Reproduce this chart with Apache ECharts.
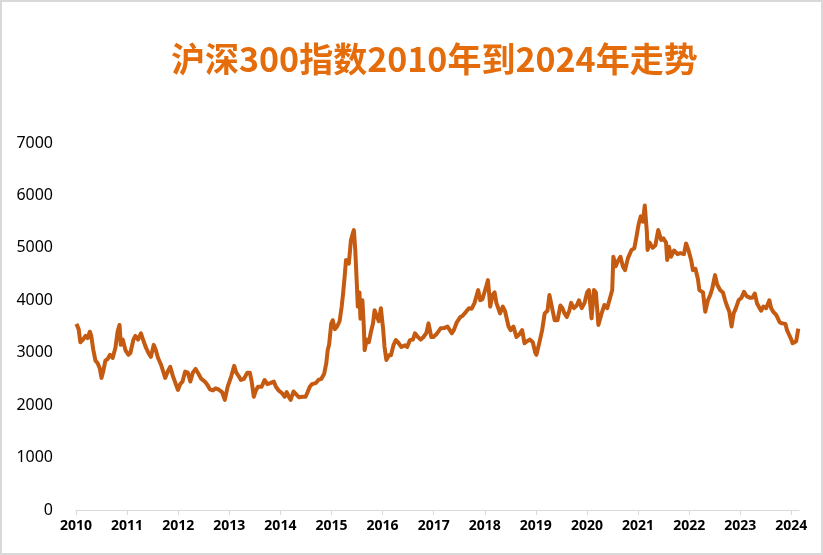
<!DOCTYPE html>
<html>
<head>
<meta charset="utf-8">
<script src="https://cdn.jsdelivr.net/npm/echarts@6/dist/echarts.min.js"></script>
<style>
html,body{margin:0;padding:0;background:#fff;}
#wrap{width:823px;height:555px;box-sizing:border-box;border:2px solid #d9d9d9;position:relative;}
#chart{position:absolute;left:-2px;top:-2px;width:823px;height:555px;}
</style>
</head>
<body>
<div id="wrap"><div id="chart"></div></div>
<script>
const titleText = '沪深300指数2010年到2024年走势';
const yearTicks = [2010,2011,2012,2013,2014,2015,2016,2017,2018,2019,2020,2021,2022,2023,2024];
const dates = [
'2010-01-04','2010-01-20','2010-02-01','2010-02-20','2010-03-10','2010-03-25','2010-04-10','2010-04-20','2010-05-05','2010-05-20','2010-06-05','2010-06-20','2010-07-02','2010-07-15','2010-07-30','2010-08-15','2010-09-01','2010-09-20','2010-10-10','2010-10-25','2010-11-08','2010-11-17','2010-12-01','2010-12-20',
'2011-01-10','2011-01-25','2011-02-15','2011-03-01','2011-03-20','2011-04-10','2011-04-25','2011-05-15','2011-06-05','2011-06-20','2011-07-10','2011-07-25','2011-08-10','2011-08-30','2011-09-15','2011-09-30','2011-10-20','2011-11-05','2011-11-25','2011-12-15','2011-12-30',
'2012-01-15','2012-02-01','2012-02-20','2012-03-10','2012-03-28','2012-04-15','2012-05-05','2012-05-25','2012-06-15','2012-07-10','2012-07-30','2012-08-15','2012-09-05','2012-09-25','2012-10-15','2012-11-10','2012-11-30','2012-12-20',
'2013-01-15','2013-02-05','2013-02-20','2013-03-10','2013-03-25','2013-04-15','2013-05-10','2013-05-28','2013-06-10','2013-06-25','2013-07-10','2013-07-25','2013-08-20','2013-09-10','2013-09-30','2013-10-20','2013-11-15','2013-11-30','2013-12-20',
'2014-01-15','2014-02-01','2014-02-15','2014-03-05','2014-03-15','2014-04-05','2014-04-25','2014-05-15','2014-06-10','2014-06-30','2014-07-15','2014-07-30','2014-08-15','2014-09-10','2014-09-30','2014-10-20','2014-11-10','2014-11-25','2014-12-05','2014-12-15','2014-12-30',
'2015-01-10','2015-01-25','2015-02-10','2015-02-28','2015-03-15','2015-03-25','2015-04-05','2015-04-15','2015-05-05','2015-05-20','2015-06-05','2015-06-10','2015-06-20','2015-07-02','2015-07-08','2015-07-20','2015-07-27','2015-08-10','2015-08-20','2015-08-26','2015-09-10','2015-09-25','2015-10-10','2015-10-25','2015-11-05','2015-11-20','2015-12-05','2015-12-20',
'2016-01-05','2016-01-15','2016-01-28','2016-02-15','2016-03-01','2016-03-20','2016-04-05','2016-04-20','2016-05-15','2016-06-10','2016-06-25','2016-07-15','2016-08-05','2016-08-20','2016-09-10','2016-09-30','2016-10-20','2016-11-10','2016-11-25','2016-12-15','2016-12-30',
'2017-01-20','2017-02-20','2017-03-15','2017-04-10','2017-05-10','2017-05-25','2017-06-15','2017-07-10','2017-07-25','2017-08-20','2017-09-10','2017-09-30','2017-10-20','2017-11-15','2017-11-30','2017-12-15',
'2018-01-10','2018-01-24','2018-02-09','2018-02-25','2018-03-12','2018-03-25','2018-04-20','2018-05-10','2018-05-25','2018-06-20','2018-07-05','2018-07-25','2018-08-15','2018-09-05','2018-09-25','2018-10-12','2018-10-30','2018-11-20','2018-12-10','2018-12-28',
'2019-01-05','2019-01-25','2019-02-15','2019-03-05','2019-03-25','2019-04-08','2019-04-25','2019-05-15','2019-06-05','2019-06-25','2019-07-10','2019-07-25','2019-08-10','2019-08-28','2019-09-10','2019-09-30','2019-10-20','2019-11-05','2019-11-25','2019-12-15',
'2020-01-02','2020-01-15','2020-02-03','2020-02-20','2020-03-05','2020-03-23','2020-04-15','2020-05-05','2020-05-25','2020-06-15','2020-06-30','2020-07-08','2020-07-25','2020-08-10','2020-08-28','2020-09-15','2020-09-30','2020-10-20','2020-11-15','2020-12-05','2020-12-20',
'2021-01-05','2021-01-20','2021-02-05','2021-02-18','2021-03-05','2021-03-10','2021-03-25','2021-04-15','2021-05-05','2021-05-25','2021-06-15','2021-07-01','2021-07-20','2021-07-28','2021-08-10','2021-08-25','2021-09-15','2021-10-10','2021-10-30','2021-11-25','2021-12-10','2021-12-28',
'2022-01-15','2022-01-28','2022-02-15','2022-03-05','2022-03-15','2022-03-25','2022-04-10','2022-04-26','2022-05-15','2022-06-01','2022-06-15','2022-07-05','2022-07-20','2022-08-10','2022-08-30','2022-09-15','2022-09-30','2022-10-15','2022-10-31','2022-11-15','2022-12-01','2022-12-20',
'2023-01-10','2023-01-28','2023-02-15','2023-03-10','2023-03-30','2023-04-15','2023-05-01','2023-05-30','2023-06-15','2023-07-05','2023-07-28','2023-08-10','2023-08-25','2023-09-15','2023-10-10','2023-10-25','2023-11-20','2023-12-01','2023-12-28',
'2024-01-10','2024-01-22','2024-02-05','2024-02-20'
];
const values = [
3550,3450,3200,3250,3320,3280,3400,3320,3050,2850,2800,2700,2520,2650,2850,2880,2960,2900,3100,3400,3530,3150,3250,3050,
2960,3000,3250,3320,3250,3370,3250,3100,2980,2920,3150,3050,2900,2780,2650,2520,2650,2730,2550,2400,2290,
2400,2450,2640,2620,2450,2620,2690,2600,2500,2450,2380,2300,2280,2320,2300,2250,2100,2350,
2550,2750,2620,2550,2480,2500,2620,2620,2450,2160,2280,2350,2350,2480,2400,2420,2450,2350,2280,
2220,2160,2250,2150,2100,2260,2200,2150,2160,2160,2250,2350,2400,2420,2480,2500,2600,2800,3050,3150,3550,
3620,3450,3500,3600,3880,4130,4450,4770,4700,5150,5300,5340,4960,4260,3880,4150,3650,4000,3500,3050,3250,3200,3400,3560,3810,3700,3600,3850,
3450,3110,2860,2950,2950,3150,3240,3200,3110,3140,3110,3240,3250,3370,3300,3250,3300,3380,3560,3300,3300,
3350,3465,3470,3500,3370,3430,3580,3680,3700,3780,3850,3840,3950,4195,4000,4020,
4250,4385,3880,4100,4150,3950,3750,3880,3800,3500,3430,3500,3300,3350,3430,3180,3220,3250,3200,3000,
2960,3180,3430,3750,3800,4100,3880,3620,3620,3900,3850,3750,3680,3800,3950,3850,3900,4000,3850,3950,
4150,4195,3655,4195,4150,3530,3750,3910,3850,4050,4195,4830,4650,4750,4830,4640,4575,4800,4960,4990,5200,
5450,5600,5500,5810,5300,4960,5100,5000,5050,5340,5150,5180,5100,4770,5020,4830,4950,4880,4900,4880,5085,4950,
4770,4575,4600,4400,4195,4200,4150,3780,4000,4100,4225,4480,4300,4195,4150,4000,3880,3780,3500,3750,3850,4000,
4050,4160,4080,4050,4050,4130,3940,3800,3880,3850,4000,3850,3780,3720,3580,3560,3550,3430,3275,
3180,3180,3220,3460
];

function toYear(s){
  const p = s.split('-').map(Number);
  const start = Date.UTC(p[0],0,1), end = Date.UTC(p[0]+1,0,1);
  return p[0] + (Date.UTC(p[0],p[1]-1,p[2]) - start)/(end-start);
}
const seriesData = dates.map((d,i)=>[toYear(d), values[i]]);

const chart = echarts.init(document.getElementById('chart'), null, {renderer:'canvas'});
chart.setOption({
  animation:false,
  backgroundColor:'transparent',
  title:{
    text:titleText, left:166, top:37,
    textStyle:{color:'#E46C0A', fontSize:34, fontWeight:'bold', fontFamily:'"Noto Sans CJK SC", sans-serif'}
  },
  grid:{left:76, right:24, top:143, bottom:45, containLabel:false},
  xAxis:{
    type:'value', min:2010, max:2024.15,
    axisLine:{show:true, lineStyle:{color:'#d9d9d9', width:1}},
    axisTick:{show:true, length:5, customValues:yearTicks, lineStyle:{color:'#d9d9d9'}},
    axisLabel:{customValues:yearTicks, formatter:v=>String(Math.round(v)), color:'#000', fontSize:14, fontWeight:'bold', margin:9, fontFamily:'"Noto Sans", sans-serif'},
    splitLine:{show:false}
  },
  yAxis:{
    type:'value', min:0, max:7000, interval:1000,
    axisLine:{show:false}, axisTick:{show:false}, splitLine:{show:false},
    axisLabel:{formatter:v=>String(v), color:'#000', fontSize:16, margin:23, fontFamily:'"Noto Sans", sans-serif'}
  },
  series:[{
    type:'line', data:seriesData, showSymbol:false, symbol:'none',
    lineStyle:{color:'#C55A11', width:4, join:'round'},
    itemStyle:{color:'#C55A11'}
  }]
});
</script>
</body>
</html>
